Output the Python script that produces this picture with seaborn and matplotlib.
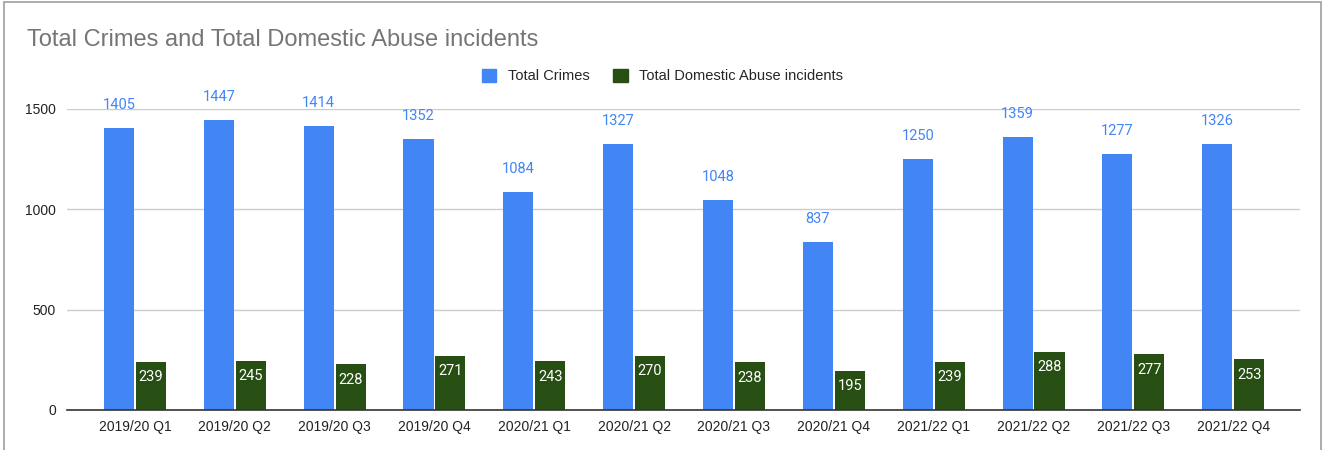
import matplotlib.pyplot as plt
import matplotlib.patches as mpatches
import seaborn as sns
import pandas as pd

quarters = ["2019/20 Q1", "2019/20 Q2", "2019/20 Q3", "2019/20 Q4",
            "2020/21 Q1", "2020/21 Q2", "2020/21 Q3", "2020/21 Q4",
            "2021/22 Q1", "2021/22 Q2", "2021/22 Q3", "2021/22 Q4"]
total_crimes = [1405, 1447, 1414, 1352, 1084, 1327, 1048, 837, 1250, 1359, 1277, 1326]
domestic_abuse = [239, 245, 228, 271, 243, 270, 238, 195, 239, 288, 277, 253]
series_names = ["Total Crimes", "Total Domestic Abuse incidents"]
yticks = [0, 500, 1000, 1500]

blue = "#4285F4"
green = "#274E13"

df = pd.DataFrame({
    "quarter": quarters * 2,
    "value": total_crimes + domestic_abuse,
    "series": [series_names[0]] * len(quarters) + [series_names[1]] * len(quarters),
})

sns.set_style("white")
plt.rcParams['font.family'] = ['Liberation Sans', 'DejaVu Sans']

fig = plt.figure(figsize=(13.25, 4.5), dpi=100)
ax = fig.add_axes([0.0506, 0.0889, 0.9306, 0.6689])

sns.barplot(data=df, x="quarter", y="value", hue="series", order=quarters,
            hue_order=series_names, palette=[blue, green], width=0.64, gap=0.06,
            saturation=1, legend=False, linewidth=0, ax=ax)

# data labels
blue_bars = ax.containers[0]
green_bars = ax.containers[1]
for bar, v in zip(blue_bars, total_crimes):
    ax.annotate(str(v), (bar.get_x() + bar.get_width() / 2, bar.get_height()),
                xytext=(0, 11.5), textcoords="offset points", ha="center", va="bottom",
                color=blue, fontsize=10.5, family="Roboto", annotation_clip=False)
for bar, v in zip(green_bars, domestic_abuse):
    ax.annotate(str(v), (bar.get_x() + bar.get_width() / 2, bar.get_height()),
                xytext=(0, -11), textcoords="offset points", ha="center", va="center",
                color="white", fontsize=10.5, family="Roboto")

ax.set_xlim(-0.68, 11.67)
ax.set_ylim(0, 1500)
ax.set_yticks(yticks)
ax.set_yticklabels([str(t) for t in yticks])
ax.grid(axis="y", color="#cccccc", linewidth=1)
ax.set_axisbelow(True)
for s in ["top", "right", "left"]:
    ax.spines[s].set_visible(False)
ax.spines["bottom"].set_color("#333333")
ax.spines["bottom"].set_linewidth(1.2)
ax.spines["bottom"].set_zorder(5)
ax.tick_params(axis="both", length=0, labelsize=10, colors="#222222")
ax.tick_params(axis="y", pad=8)
ax.tick_params(axis="x", pad=7)
ax.set_xlabel("")
ax.set_ylabel("")

fig.text(0.0204, 0.912, "Total Crimes and Total Domestic Abuse incidents",
         fontsize=17, color="#757575", va="center", ha="left")

handles = [mpatches.Patch(color=blue, label=series_names[0]),
           mpatches.Patch(color=green, label=series_names[1])]
fig.legend(handles=handles, loc="center", bbox_to_anchor=(0.5, 0.831), ncol=2,
           frameon=False, fontsize=10.5, handlelength=1.0, handleheight=1.0,
           columnspacing=1.6, handletextpad=0.8)

# outer frame
frame = mpatches.Rectangle((0.003, -0.05), 0.994, 1.046, transform=fig.transFigure,
                           fill=False, edgecolor="#9e9e9e", linewidth=1.2)
fig.patches.append(frame)

fig.savefig("out.png", dpi=100)
